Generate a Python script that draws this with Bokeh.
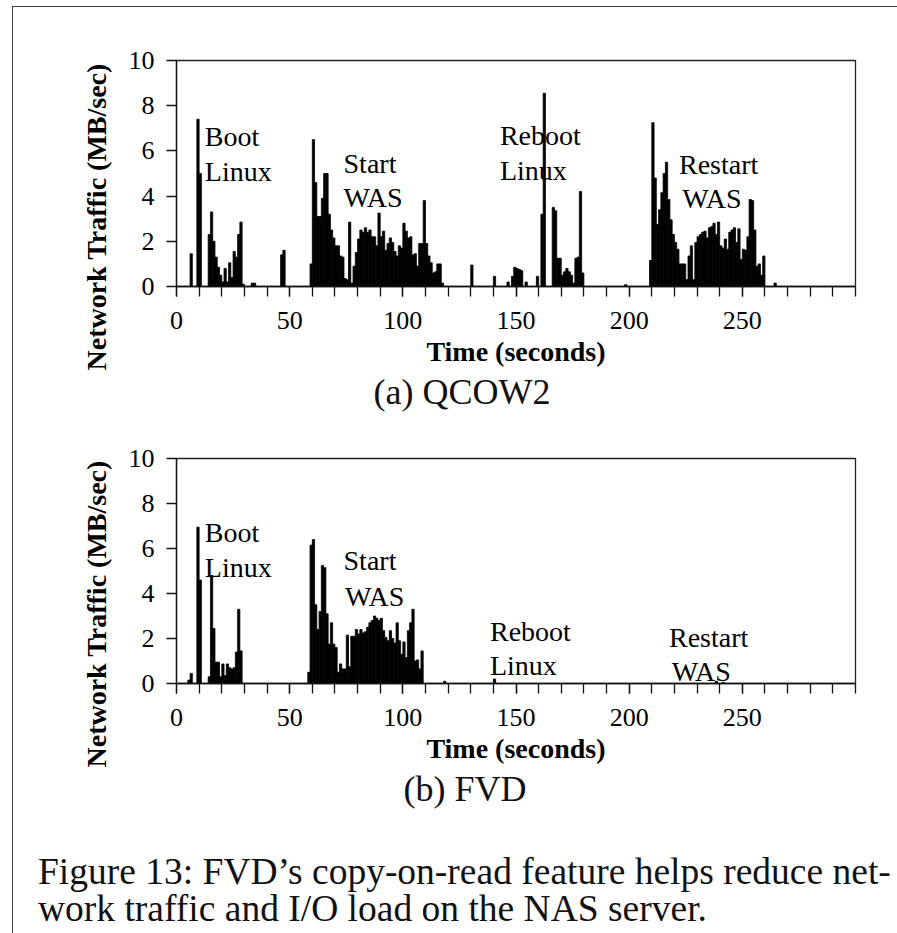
from bokeh.plotting import figure
from bokeh.models import Range1d, FixedTicker, ColumnDataSource, Div, Title
from bokeh.layouts import column
from bokeh.core.properties import value
from bokeh.embed import file_html
from bokeh.resources import INLINE

SERIF = "Liberation Serif"

# ---------------- data ----------------
x_major_ticks = [0, 50, 100, 150, 200, 250]
x_minor_ticks = list(range(0, 301, 10))
y_ticks = [0, 2, 4, 6, 8, 10]

# (a) QCOW2 : network traffic per second (MB/sec), non-zero seconds only
qcow2_seconds = [6, 9, 10, 14, 15, 16, 17, 18, 19, 20, 21, 22, 23, 24, 25, 26, 27, 28, 29,
                 33, 34, 46, 47,
                 59, 60, 61, 62, 63, 64, 65, 66, 67, 68, 69, 70, 71, 72, 73, 74, 75, 76, 77, 78,
                 79, 80, 81, 82, 83, 84, 85, 86, 87, 88, 89, 90, 91, 92, 93, 94, 95, 96, 97, 98,
                 99, 100, 101, 102, 103, 104, 105, 106, 107, 108, 109, 110, 111, 112, 113, 114,
                 115, 116, 117,
                 130, 140, 146, 148, 149, 150, 151, 152, 154, 159, 161, 162, 166, 167, 168, 169,
                 170, 171, 172, 173, 174, 175, 176, 177, 178, 179, 198,
                 209, 210, 211, 212, 213, 214, 215, 216, 217, 218, 219, 220, 221, 222, 223, 224,
                 225, 226, 227, 228, 229, 230, 231, 232, 233, 234, 235, 236, 237, 238, 239, 240,
                 241, 242, 243, 244, 245, 246, 247, 248, 249, 250, 251, 252, 253, 254, 255, 256,
                 257, 258, 259, 264]
qcow2_mb_per_sec = [1.45, 7.4, 5.0, 2.3, 3.3, 2.0, 1.3, 0.85, 0.5, 0.2, 0.8, 0.2, 1.05, 0.4, 1.55, 1.3, 2.3, 2.85, 0.1,
                    0.15, 0.15, 1.4, 1.6,
                    1.0, 6.5, 4.6, 3.1, 3.1, 3.9, 5.0, 5.0, 3.2, 2.5, 2.15, 1.8, 1.8, 1.35, 1.3, 0.35, 0.3, 2.85, 0.15, 0.9,
                    1.5, 2.1, 2.5, 2.4, 2.6, 2.4, 2.5, 2.2, 2.2, 1.8, 3.25, 2.2, 2.45, 1.6, 1.9, 2.15, 1.95, 1.55, 1.35, 1.8,
                    1.7, 2.8, 2.45, 2.15, 2.2, 1.4, 1.45, 0.9, 1.9, 1.9, 3.8, 1.9, 1.35, 1.05, 0.6, 0.65,
                    1.0, 1.0, 0.15,
                    0.95, 0.45, 0.2, 0.45, 0.85, 0.8, 0.75, 0.7, 0.2, 0.45, 3.2, 8.55, 3.5, 3.35, 1.25, 1.25,
                    0.5, 0.65, 0.8, 0.65, 0.5, 0.15, 1.25, 1.3, 4.2, 0.6, 0.08,
                    1.15, 7.25, 4.8, 2.75, 3.4, 4.15, 5.0, 5.5, 3.85, 2.95, 2.3, 1.95, 1.65, 1.0, 1.0, 1.0,
                    0.3, 1.35, 1.8, 0.3, 1.95, 2.2, 2.3, 2.4, 2.45, 2.15, 2.6, 2.65, 2.8, 2.3, 2.85, 1.8,
                    1.7, 2.1, 1.65, 2.4, 2.5, 2.6, 1.95, 2.55, 1.2, 1.65, 1.6, 2.2, 3.85, 3.8, 2.5, 0.9,
                    1.0, 0.5, 1.35, 0.15]

# (b) FVD
fvd_seconds = [5, 6, 9, 10, 14, 15, 16, 17, 18, 19, 20, 21, 22, 23, 24, 25, 26, 27, 28,
               58, 59, 60, 61, 62, 63, 64, 65, 66, 67, 68, 69, 70, 71, 72, 73, 74, 75, 76, 77, 78,
               79, 80, 81, 82, 83, 84, 85, 86, 87, 88, 89, 90, 91, 92, 93, 94, 95, 96, 97, 98,
               99, 100, 101, 102, 103, 104, 105, 106, 107, 108,
               118, 140, 238, 241]
fvd_mb_per_sec = [0.15, 0.45, 6.95, 4.6, 0.3, 4.8, 2.45, 0.95, 0.95, 0.3, 0.87, 0.35, 0.87, 0.7, 0.65, 0.7, 1.4, 3.3, 1.45,
                  0.5, 6.15, 6.4, 3.5, 2.4, 3.2, 5.25, 5.15, 3.1, 1.75, 2.7, 1.75, 1.6, 0.5, 0.87, 0.65, 0.65, 2.15, 0.75, 2.1, 2.1,
                  2.4, 2.2, 2.4, 2.25, 2.3, 2.5, 2.7, 2.8, 3.0, 2.9, 2.8, 2.9, 2.35, 2.05, 1.9, 2.35, 2.0, 1.8, 2.7, 1.9,
                  1.3, 1.85, 1.15, 2.35, 2.7, 3.3, 1.0, 1.05, 0.65, 1.45,
                  0.1, 0.2, 0.1, 0.05]

# event annotations (text, anchor second, anchor MB/sec)
notes_a_text = ["Boot", "Linux", "Start", "WAS", "Reboot", "Linux", "Restart", "WAS"]
notes_a_x = [12.5, 12.5, 73.8, 73.8, 142.9, 142.9, 222.0, 223.5]
notes_a_y = [6.64, 5.09, 5.44, 3.95, 6.68, 5.13, 5.38, 3.88]

notes_b_text = ["Boot", "Linux", "Start", "WAS", "Reboot", "Linux", "Restart", "WAS"]
notes_b_x = [12.5, 12.5, 73.8, 74.5, 138.5, 138.5, 217.6, 218.8]
notes_b_y = [6.72, 5.14, 5.47, 3.87, 2.31, 0.8, 2.06, 0.53]


def make_panel(seconds, vals, ntext, nx, ny, caption, height, b_top, b_bottom,
               cap_offset, cap_standoff):
    p = figure(width=883, height=height, x_range=Range1d(0, 300), y_range=Range1d(0, 10),
               output_backend="svg", toolbar_location=None, title=None,
               min_border_left=163, min_border_right=41,
               min_border_top=b_top, min_border_bottom=b_bottom)
    p.grid.visible = False
    p.outline_line_color = "#222222"
    p.outline_line_width = 1.3
    p.background_fill_color = "white"
    p.border_fill_color = "white"

    notes = ColumnDataSource(dict(x=nx, y=ny, text=ntext))
    p.text(x="x", y="y", text="text", source=notes, text_font=value(SERIF),
           text_font_size="28px", text_color="black", text_baseline="alphabetic",
           text_align="left")

    bars = ColumnDataSource(dict(x=[s + 0.5 for s in seconds], top=vals))
    p.vbar(x="x", top="top", bottom=0, width=1.0, source=bars,
           fill_color="black", line_color="black", line_width=0.8)

    xa = p.xaxis[0]
    xa.ticker = FixedTicker(ticks=x_major_ticks, minor_ticks=x_minor_ticks)
    xa.major_tick_out = 10
    xa.major_tick_in = 0
    xa.minor_tick_out = 10
    xa.minor_tick_in = 0
    xa.axis_line_color = "#111111"
    xa.axis_line_width = 1.3
    xa.major_tick_line_color = "#111111"
    xa.minor_tick_line_color = "#111111"
    xa.major_tick_line_width = 1.3
    xa.minor_tick_line_width = 1.3
    xa.major_label_text_font = SERIF
    xa.major_label_text_font_size = "26px"
    xa.major_label_text_color = "black"
    xa.major_label_standoff = 15
    xa.axis_label = "Time (seconds)"
    xa.axis_label_text_font = SERIF
    xa.axis_label_text_font_size = "28px"
    xa.axis_label_text_font_style = "bold"
    xa.axis_label_text_color = "black"
    xa.axis_label_standoff = 4

    ya = p.yaxis[0]
    ya.ticker = FixedTicker(ticks=y_ticks, minor_ticks=[])
    ya.major_tick_out = 10
    ya.major_tick_in = 0
    ya.axis_line_color = "#111111"
    ya.axis_line_width = 1.3
    ya.major_tick_line_color = "#111111"
    ya.major_tick_line_width = 1.3
    ya.major_label_text_font = SERIF
    ya.major_label_text_font_size = "26px"
    ya.major_label_text_color = "black"
    ya.major_label_standoff = 12

    p.add_layout(Title(text="Network Traffic (MB/sec)", align="left", offset=-84,
                       standoff=27, text_font=SERIF, text_font_size="28px",
                       text_font_style="bold", text_color="black"), "left")
    p.add_layout(Title(text=caption, align="left", offset=cap_offset,
                       standoff=cap_standoff, text_font=SERIF, text_font_size="36px",
                       text_font_style="normal", text_color="#111111"), "below")
    return p


pa = make_panel(qcow2_seconds, qcow2_mb_per_sec, notes_a_text, notes_a_x, notes_a_y,
                "(a) QCOW2", 413, 53, 134, 197, 0)
pb = make_panel(fvd_seconds, fvd_mb_per_sec, notes_b_text, notes_b_x, notes_b_y,
                "(b) FVD", 400, 38, 137, 227, 0)

cap = Div(text=("<div style=\"padding:28px 0 0 20px; font-family:'Liberation Serif'; "
                "font-size:37.5px; line-height:37.5px; white-space:nowrap; color:#111;\">"
                "Figure 13: FVD\u2019s copy-on-read feature helps reduce net-<br>"
                "work traffic and I/O load on the NAS server.</div>"),
          width=883, height=110)

layout = column(pa, pb, cap, styles={"border-left": "1.5px solid #444",
                                      "border-top": "1.5px solid #444",
                                      "margin-left": "12px",
                                      "margin-top": "5.5px"})

open("out.html", "w").write(file_html(layout, INLINE))
